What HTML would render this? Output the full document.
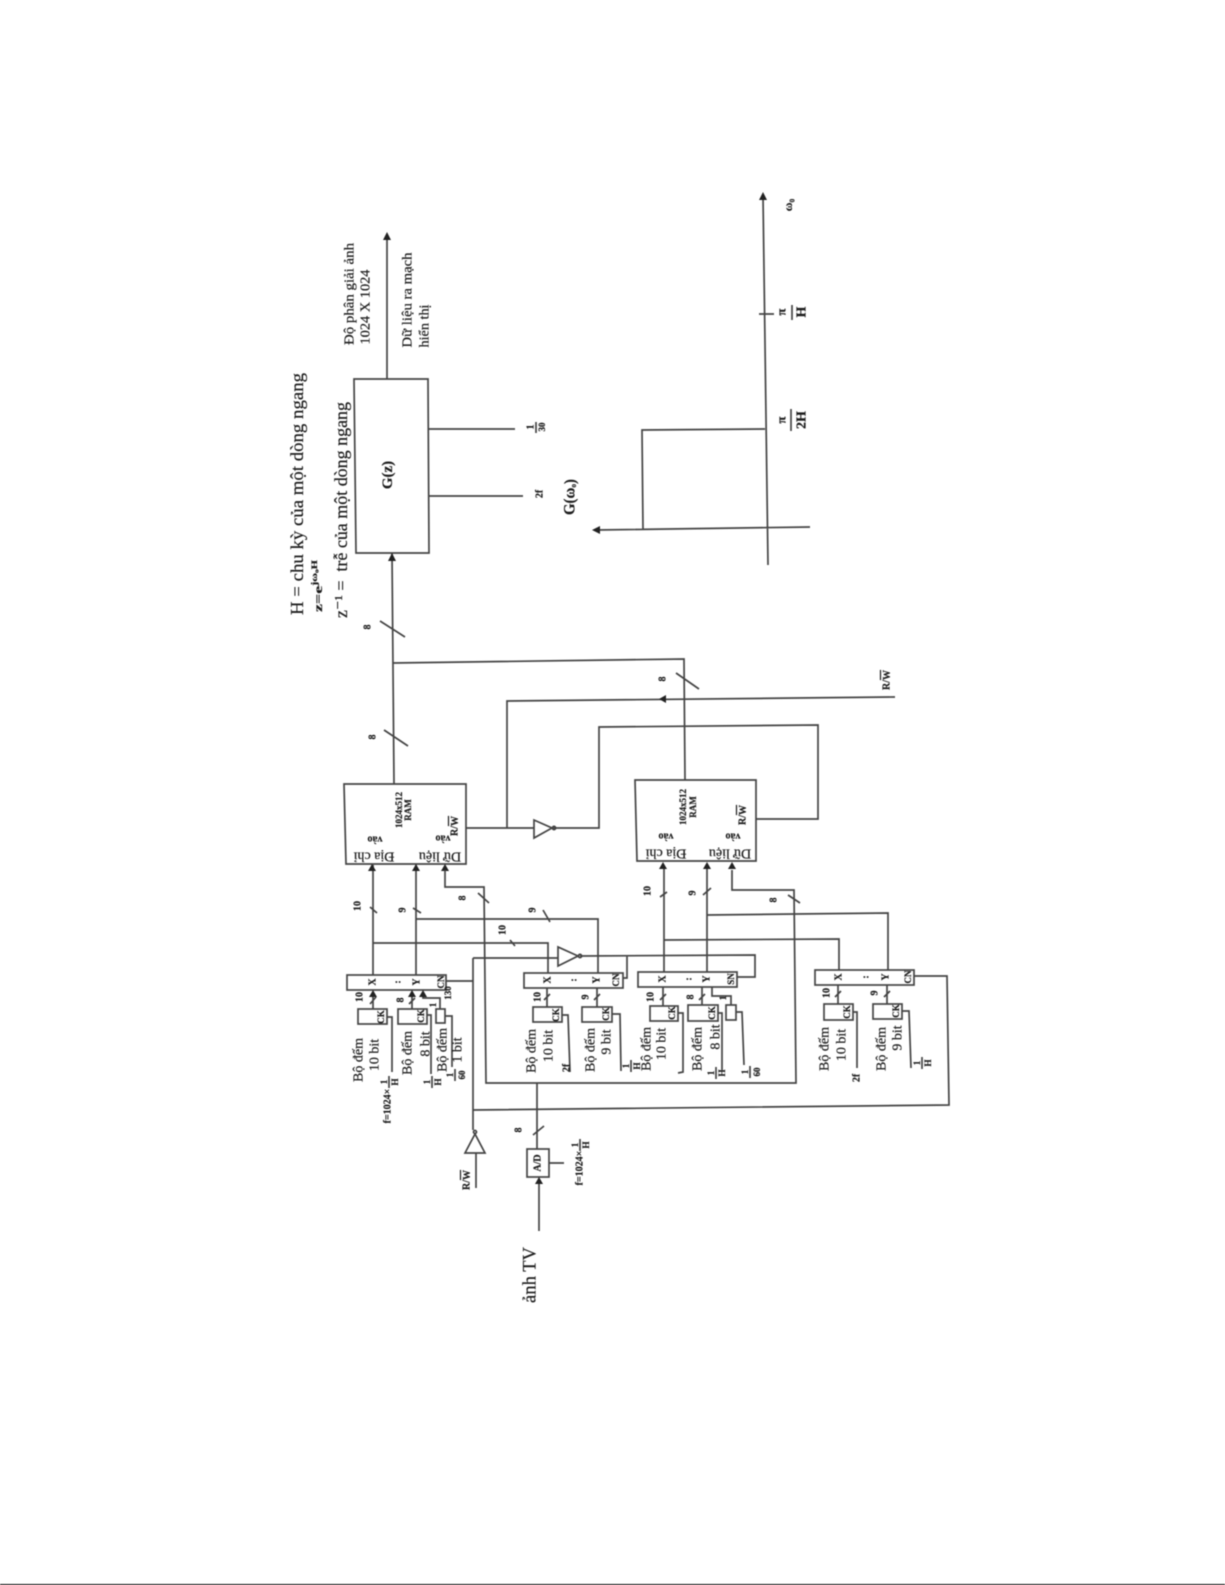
<!DOCTYPE html>
<html lang="vi"><head><meta charset="utf-8"><title>Sơ đồ</title>
<style>
html,body{margin:0;padding:0;background:#fff;width:1225px;height:1585px;overflow:hidden}
svg{display:block;filter:blur(.4px)}
text{font-family:"Liberation Serif","DejaVu Serif",serif;fill:#1c1c1c;stroke:#1c1c1c;stroke-width:.2;text-anchor:middle;dominant-baseline:central}
.l{fill:none;stroke:#444;stroke-width:1.7}
.a{fill:#222;stroke:none}
.s{font-size:10px;font-weight:bold}
.m{font-size:14px}
.b{font-size:9px;font-weight:bold}
.n{font-size:13px;font-weight:bold}
</style></head><body>
<svg width="1225" height="1585" viewBox="0 0 1225 1585" xmlns="http://www.w3.org/2000/svg">
<rect width="1225" height="1585" fill="#fff"/>
<rect x="0" y="1584" width="1225" height="1" fill="#000"/>

<!-- Top notes -->
<text transform="translate(297 494)rotate(-90)" font-size="18" textLength="242" lengthAdjust="spacingAndGlyphs">H = chu kỳ của một dòng ngang</text>
<text transform="translate(318 586)rotate(-90)" font-size="12" font-weight="bold" textLength="52" lengthAdjust="spacingAndGlyphs">z=e<tspan dy="-4" font-size="8">jω₀H</tspan></text>
<text transform="translate(341 510)rotate(-90)" font-size="18" textLength="216" lengthAdjust="spacingAndGlyphs" style="white-space:pre">z⁻¹ =  trễ của một dòng ngang</text>

<!-- G(z) -->
<path class="l" d="M354 379H428L429 553H356Z"/>
<text transform="translate(388 475)rotate(-90)" font-size="15" font-weight="bold">G(z)</text>
<path class="l" d="M387 379V236"/><polygon class="a" points="387,232 383,240 391,240"/>
<text transform="translate(350 294)rotate(-90)" font-size="14" textLength="102" lengthAdjust="spacingAndGlyphs">Độ phân giải ảnh</text>
<text transform="translate(366 307)rotate(-90)" font-size="14" textLength="75" lengthAdjust="spacingAndGlyphs">1024 X 1024</text>
<text transform="translate(408 300)rotate(-90)" font-size="14" textLength="95" lengthAdjust="spacingAndGlyphs">Dữ liệu ra mạch</text>
<text transform="translate(425 326)rotate(-90)" font-size="14" textLength="43" lengthAdjust="spacingAndGlyphs">hiển thị</text>
<path class="l" d="M428 429H515M429 496H523"/>
<text class="s" transform="translate(531 427)rotate(-90)">1</text><path class="l" d="M536 422V433" stroke-width="1"/><text class="b" transform="translate(542 427)rotate(-90)">30</text>
<text class="s" transform="translate(540 494)rotate(-90)">2f</text>
<text transform="translate(570 497)rotate(-90)" font-size="16" font-weight="bold" textLength="36" lengthAdjust="spacingAndGlyphs">G(ω<tspan dy="3" font-size="8">o</tspan><tspan dy="-3">)</tspan></text>

<!-- Frequency plot -->
<path class="l" d="M763 196L768 565M596 530L810 527M643 530L642 430L765 429M759 314H774"/>
<polygon class="a" points="763,192 759,200 767,200"/><polygon class="a" points="592,530 600,526 600,534"/>
<text transform="translate(788 205)rotate(-90)" font-size="12" font-weight="bold">ω₀</text>
<text class="n" transform="translate(781 312)rotate(-90)">π</text><path class="l" d="M792 305V320"/><text transform="translate(802 312)rotate(-90)" font-size="14" font-weight="bold">H</text>
<text class="n" transform="translate(781 420)rotate(-90)">π</text><path class="l" d="M791 409V431"/><text transform="translate(802 420)rotate(-90)" font-size="14" font-weight="bold">2H</text>

<!-- Main bus -->
<path class="l" d="M392 553L394 784M393 663L684 659L685 780"/>
<polygon class="a" points="392,553 388,561 396,561"/>
<path class="l" d="M380 621L405 637M384 730L408 746M676 673L699 689"/>
<text class="s" transform="translate(368 627)rotate(-90)">8</text>
<text class="s" transform="translate(373 737)rotate(-90)">8</text>
<text class="s" transform="translate(663 679)rotate(-90)">8</text>

<!-- R/W upper -->
<path class="l" d="M895 697L507 701V828M466 828H534M553 828H599V727L818 725V819H756"/>
<polygon class="a" points="659,699 666,695 666,703"/>
<text class="s" transform="translate(887 680)rotate(-90)">R/<tspan text-decoration="overline">W</tspan></text>
<polygon class="l" points="534,820 534,838 552,828" fill="#fff"/><circle class="l" cx="554" cy="828" r="1.6"/>

<!-- RAM 1 -->
<path class="l" d="M344 784H466V864H346Z"/>
<text class="m" transform="translate(374 856)rotate(180)">Địa chỉ</text>
<text class="s" transform="translate(375 839)rotate(180)" font-size="11">vào</text>
<text class="m" transform="translate(440 856)rotate(180)">Dữ liệu</text>
<text class="s" transform="translate(443 838)rotate(180)">vào</text>
<text class="b" transform="translate(399 810)rotate(-90)">1024x512</text>
<text class="b" transform="translate(408 810)rotate(-90)">RAM</text>
<text class="s" transform="translate(455 826)rotate(-90)">R/<tspan text-decoration="overline">W</tspan></text>

<!-- RAM 2 -->
<path class="l" d="M635 780H756V861H637Z"/>
<text class="m" transform="translate(666 853)rotate(180)">Địa chỉ</text>
<text class="s" transform="translate(666 836)rotate(180)">vào</text>
<text class="m" transform="translate(730 853)rotate(180)">Dữ liệu</text>
<text class="s" transform="translate(733 836)rotate(180)">vào</text>
<text class="b" transform="translate(683 807)rotate(-90)">1024x512</text>
<text class="b" transform="translate(693 807)rotate(-90)">RAM</text>
<text class="s" transform="translate(743 815)rotate(-90)">R/<tspan text-decoration="overline">W</tspan></text>

<!-- Buses to RAM 1 -->
<path class="l" d="M373 975V865M416 975V865M373 943H548V973M416 919H598V973"/>
<polygon class="a" points="372,864 368,871 376,871"/><polygon class="a" points="416,864 412,871 420,871"/><polygon class="a" points="445,864 441,871 449,871"/>
<path class="l" d="M370 907L377 913M413 908L421 913M543 910L550 922M510 940L515 946M478 893L489 903"/>
<text class="s" transform="translate(358 906)rotate(-90)">10</text>
<text class="s" transform="translate(403 910)rotate(-90)">9</text>
<text class="s" transform="translate(533 910)rotate(-90)">9</text>
<text class="s" transform="translate(503 930)rotate(-90)">10</text>
<text class="s" transform="translate(463 898)rotate(-90)">8</text>

<!-- Data 8 loop -->
<path class="l" d="M445 870V887H484L486 1083H796L794 890H732V870"/>
<polygon class="a" points="732,862 728,869 736,869"/>
<path class="l" d="M788 895L800 903"/>
<text class="s" transform="translate(774 900)rotate(-90)">8</text>

<!-- Buses to RAM 2 -->
<path class="l" d="M664 972V869M707 972V869M664 940L839 939V970M707 915L888 913V970"/>
<polygon class="a" points="663,862 659,869 667,869"/><polygon class="a" points="707,862 703,869 711,869"/>
<path class="l" d="M660 897L667 892M703 895L711 888"/>
<text class="s" transform="translate(648 891)rotate(-90)">10</text>
<text class="s" transform="translate(693 893)rotate(-90)">9</text>

<!-- R/W lower -->
<path class="l" d="M446 981H473M473 958V1130M473 958H558M580 956L755 955V977H737M627 955V978H623"/>
<polygon class="l" points="558,947 558,966 578,956" fill="#fff"/><circle class="l" cx="580" cy="956" r="1.6"/>
<path class="l" d="M914 976H947L949 1105L473 1110"/>
<circle class="l" cx="475" cy="1132" r="1.5"/>
<polygon class="l" points="475,1134 465,1153 485,1153" fill="#fff"/>
<path class="l" d="M476 1153V1188"/>
<text class="s" transform="translate(467 1180)rotate(-90)">R/<tspan text-decoration="overline">W</tspan></text>

<!-- Registers -->
<rect class="l" x="347" y="975" width="99" height="15"/>
<text class="s" transform="translate(373 982)rotate(-90)">X</text><text class="s" transform="translate(398 982)rotate(-90)">:</text><text class="s" transform="translate(417 982)rotate(-90)">Y</text><text class="b" transform="translate(441 982)rotate(-90)">CN</text>
<rect class="l" x="524" y="973" width="99" height="15"/>
<text class="s" transform="translate(548 980)rotate(-90)">X</text><text class="s" transform="translate(574 980)rotate(-90)">:</text><text class="s" transform="translate(597 980)rotate(-90)">Y</text><text class="b" transform="translate(616 980)rotate(-90)">CN</text>
<rect class="l" x="638" y="972" width="99" height="15"/>
<text class="s" transform="translate(663 979)rotate(-90)">X</text><text class="s" transform="translate(689 979)rotate(-90)">:</text><text class="s" transform="translate(707 979)rotate(-90)">Y</text><text class="b" transform="translate(731 979)rotate(-90)">SN</text>
<rect class="l" x="815" y="970" width="99" height="15"/>
<text class="s" transform="translate(839 977)rotate(-90)">X</text><text class="s" transform="translate(866 977)rotate(-90)">:</text><text class="s" transform="translate(886 977)rotate(-90)">Y</text><text class="b" transform="translate(908 977)rotate(-90)">CN</text>

<!-- Counters group 1 -->
<rect class="l" x="358" y="1009" width="29" height="15"/><rect class="l" x="398" y="1009" width="29" height="15"/><rect class="l" x="436" y="1009" width="9" height="14"/>
<path class="l" d="M373 997V1009M412 997V1009M423 997L423 998H440V1009M387 1017H392V1072M427 1015H431V1074M445 1016H452V1067M370 1004L376 997M409 1004L415 998"/>
<polygon class="a" points="373,990 369,997 377,997"/><polygon class="a" points="412,990 408,997 416,997"/><polygon class="a" points="423,990 419,997 427,997"/>
<text class="b" transform="translate(381 1017)rotate(-90)">CK</text><text class="b" transform="translate(421 1016)rotate(-90)">CK</text>
<text class="s" transform="translate(360 997)rotate(-90)">10</text><text class="s" transform="translate(401 1000)rotate(-90)">8</text>
<text class="b" transform="translate(433 1005)rotate(-90)">1</text><text class="b" transform="translate(448 993)rotate(-90)">130</text>
<text class="m" transform="translate(359 1060)rotate(-90)">Bộ đếm</text><text class="m" transform="translate(375 1055)rotate(-90)">10 bit</text>
<text class="m" transform="translate(408 1053)rotate(-90)">Bộ đếm</text><text class="m" transform="translate(426 1044)rotate(-90)">8 bit</text>
<text class="m" transform="translate(443 1050)rotate(-90)">Bộ đếm</text><text class="m" transform="translate(458 1050)rotate(-90)">1 bit</text>
<text class="s" transform="translate(388 1106)rotate(-90)" font-size="10">f=1024×</text><text class="b" transform="translate(384 1082)rotate(-90)">1</text><path class="l" d="M389 1076V1088"/><text class="b" transform="translate(395 1082)rotate(-90)">H</text>
<text class="b" transform="translate(427 1082)rotate(-90)">1</text><path class="l" d="M432 1076V1088"/><text class="b" transform="translate(438 1082)rotate(-90)">H</text>
<text class="b" transform="translate(450 1075)rotate(-90)">1</text><path class="l" d="M455 1069V1081"/><text class="b" transform="translate(462 1075)rotate(-90)">60</text>

<!-- Counters group 2 -->
<rect class="l" x="533" y="1007" width="29" height="15"/><rect class="l" x="582" y="1007" width="30" height="15"/>
<path class="l" d="M547 988V1007M597 988V1007M562 1015H568L570 1072M612 1014H620L621 1071M544 1000L550 994M594 1000L600 994"/>
<text class="b" transform="translate(556 1015)rotate(-90)">CK</text><text class="b" transform="translate(606 1014)rotate(-90)">CK</text>
<text class="s" transform="translate(538 997)rotate(-90)">10</text><text class="s" transform="translate(586 997)rotate(-90)">9</text>
<text class="m" transform="translate(532 1051)rotate(-90)">Bộ đếm</text><text class="m" transform="translate(549 1046)rotate(-90)">10 bit</text>
<text class="m" transform="translate(591 1050)rotate(-90)">Bộ đếm</text><text class="m" transform="translate(607 1042)rotate(-90)">9 bit</text>
<text class="s" transform="translate(567 1068)rotate(-90)">2f</text>
<text class="b" transform="translate(626 1066)rotate(-90)">1</text><path class="l" d="M631 1060V1072"/><text class="b" transform="translate(637 1066)rotate(-90)">H</text>

<!-- Counters group 3 -->
<rect class="l" x="650" y="1006" width="28" height="15"/><rect class="l" x="688" y="1005" width="30" height="16"/><rect class="l" x="726" y="1005" width="10" height="15"/>
<path class="l" d="M663 987V1006M702 987V1005M712 987V996H731V1005M678 1013H683V1072L678 1073M718 1013H722V1070M736 1012H742L744 1065M660 1000L666 994M699 1000L705 994"/>
<text class="b" transform="translate(672 1013)rotate(-90)">CK</text><text class="b" transform="translate(712 1013)rotate(-90)">CK</text>
<text class="s" transform="translate(651 997)rotate(-90)">10</text><text class="s" transform="translate(691 997)rotate(-90)">8</text><text class="b" transform="translate(723 998)rotate(-90)">1</text>
<text class="m" transform="translate(647 1049)rotate(-90)">Bộ đếm</text><text class="m" transform="translate(662 1044)rotate(-90)">10 bit</text>
<text class="m" transform="translate(698 1049)rotate(-90)">Bộ đếm</text><text class="m" transform="translate(716 1037)rotate(-90)">8 bit</text>
<text class="b" transform="translate(711 1073)rotate(-90)">1</text><path class="l" d="M716 1067V1079"/><text class="b" transform="translate(722 1073)rotate(-90)">H</text>
<text class="b" transform="translate(745 1072)rotate(-90)">1</text><path class="l" d="M750 1066V1078"/><text class="b" transform="translate(757 1072)rotate(-90)">60</text>

<!-- Counters group 4 -->
<rect class="l" x="824" y="1004" width="29" height="16"/><rect class="l" x="873" y="1004" width="29" height="15"/>
<path class="l" d="M838 985V1004M887 985V1004M853 1012H857V1068M902 1011H909L911 1068M835 997L841 991M884 997L890 991"/>
<text class="b" transform="translate(847 1012)rotate(-90)">CK</text><text class="b" transform="translate(896 1011)rotate(-90)">CK</text>
<text class="s" transform="translate(827 993)rotate(-90)">10</text><text class="s" transform="translate(875 993)rotate(-90)">9</text>
<text class="m" transform="translate(825 1049)rotate(-90)">Bộ đếm</text><text class="m" transform="translate(842 1045)rotate(-90)">10 bit</text>
<text class="m" transform="translate(882 1049)rotate(-90)">Bộ đếm</text><text class="m" transform="translate(898 1038)rotate(-90)">9 bit</text>
<text class="s" transform="translate(857 1078)rotate(-90)">2f</text>
<text class="b" transform="translate(917 1063)rotate(-90)">1</text><path class="l" d="M922 1057V1069"/><text class="b" transform="translate(928 1063)rotate(-90)">H</text>

<!-- A/D -->
<path class="l" d="M537 1083V1149M533 1135L544 1126M549 1163H564M539 1184V1231"/>
<rect class="l" x="527" y="1149" width="22" height="28" stroke-width="2"/>
<polygon class="a" points="539,1177 535,1184 543,1184"/>
<text class="s" transform="translate(538 1163)rotate(-90)" font-size="11">A/D</text>
<text class="s" transform="translate(519 1130)rotate(-90)">8</text>
<text class="s" transform="translate(580 1168)rotate(-90)">f=1024×</text><text class="b" transform="translate(575 1145)rotate(-90)">1</text><path class="l" d="M580 1139V1151"/><text class="b" transform="translate(586 1145)rotate(-90)">H</text>
<text transform="translate(530 1275)rotate(-90)" font-size="19" textLength="56" lengthAdjust="spacingAndGlyphs">ảnh TV</text>
</svg>
</body></html>
